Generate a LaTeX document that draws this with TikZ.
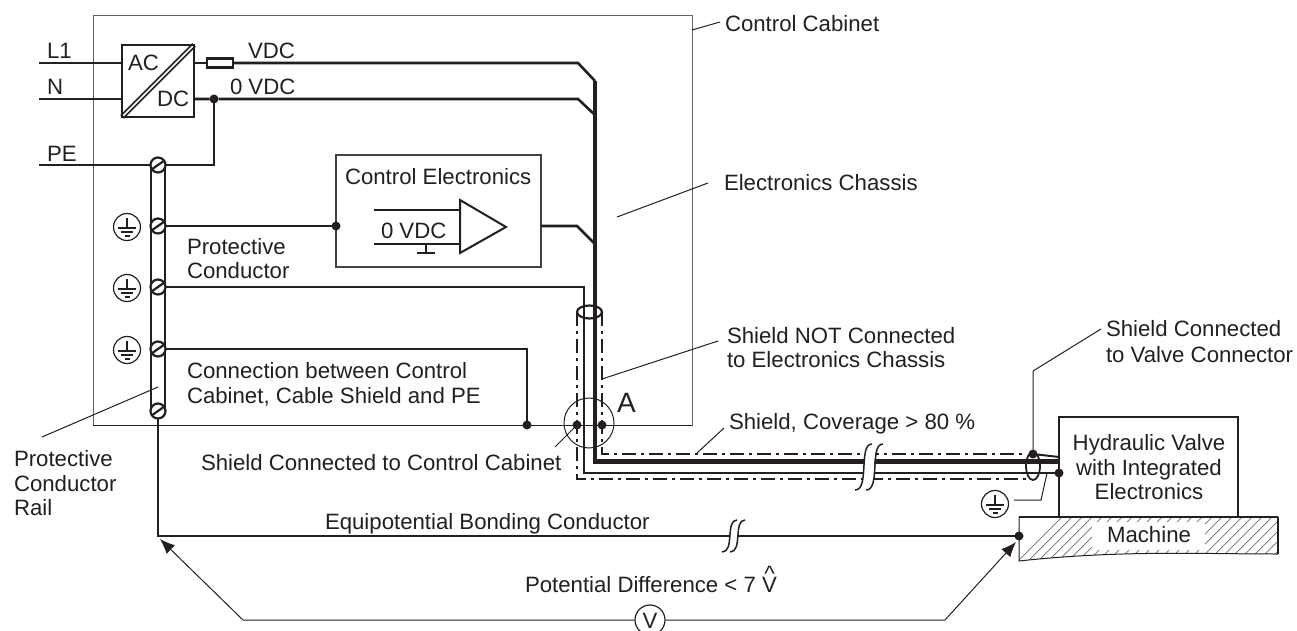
\documentclass[tikz,border=0pt]{standalone}
\usepackage{fontspec}
\setmainfont{Liberation Sans}
\usetikzlibrary{arrows.meta,calc}
\definecolor{ink}{HTML}{231F20}
\tikzset{
  txt/.style={anchor=base west,inner sep=0pt,outer sep=0pt,text=ink,font=\fontsize{22.2}{25}\selectfont},
  ctxt/.style={txt,anchor=base,align=center},
  wire/.style={draw=ink,line width=2.6pt,line join=miter},
  heavy/.style={draw=ink,line width=4.6pt},
  thin/.style={draw=ink,line width=1pt},
  frame/.style={draw=ink!70,line width=1.4pt},
  shieldline/.style={draw=ink,line width=2.4pt,dash pattern=on 14pt off 5pt on 3pt off 5pt},
  dotn/.style={circle,fill=ink,draw=none,minimum size=9pt,inner sep=0pt,outer sep=0pt},
  screw/.style={circle,draw=ink,line width=2.2pt,fill=white,minimum size=15pt,inner sep=0pt,outer sep=0pt},
  boxn/.style={draw=ink,inner sep=0pt,outer sep=0pt},
  gnd/.pic={
    \draw[ink,line width=1.2pt] (0,0) circle (13.5);
    \draw[ink,line width=1.2pt] (0,-9) -- (0,1) (-9,1) -- (9,1) (-6,5) -- (6,5) (-2.5,9) -- (2.5,9);
  }
}
\begin{document}
\begin{tikzpicture}[x=1pt,y=-1pt]
\useasboundingbox (0,0) rectangle (1297,631);
% cabinet
\node[frame,inner sep=0pt,minimum width=599pt,minimum height=410pt,anchor=north west] (cab) at (93,15) {};
\draw[thin] (93,425) -- (692,425);
% machine
\begin{scope}
  \clip (1019,517) -- (1278,517) -- (1278,554) .. controls (1200,554) and (1120,550) .. (1019,561) -- cycle;
  \foreach \i in {0,...,32} {
    \draw[ink!65,line width=.7pt] ({1014+\i*10},565) -- ({1014+\i*10+50},515);
  }
  \fill[white] (1092,522) rectangle (1205,550);
\end{scope}
\draw[thin] (1019,517) -- (1019,561) .. controls (1120,550) and (1200,554) .. (1278,554);
\draw[ink,line width=1.8pt] (1278,554) -- (1278,517);
% power supply
\node[boxn,line width=2.2pt,minimum width=72pt,minimum height=72pt,anchor=north west] (acdc) at (122,45) {};
\draw[ink,line width=5pt] (acdc.south west) -- (acdc.north east);
\draw[white,line width=1.6pt] (acdc.south west) -- (acdc.north east);
\draw[ink,line width=2.2pt] (acdc.south west) rectangle (acdc.north east);
\node[txt] (tac) at (128,71) {AC};
\node[txt] (tdc) at (157,107) {DC};
\node[boxn,line width=2.2pt,minimum width=26pt,minimum height=9pt] (fuse) at (220,63) {};
\coordinate (L1s) at (39,63); \coordinate (Ns) at (39,99); \coordinate (PEs) at (39,165);
\node[dotn] (d0) at (214,99) {};
% rail
\draw[ink,line width=2.2pt] (151,165) -- (151,411) (165,165) -- (165,411);
\foreach \n/\yy in {s1/165,s2/226,s3/287,s4/349,s5/411} {
  \node[screw] (\n) at (158,\yy) {};
  \draw[ink,line width=2.2pt] (\n.215) -- (\n.35);
}
\pic at (127,227) {gnd};
\pic at (127,288) {gnd};
\pic at (127,350) {gnd};
\pic at (995,504) {gnd};
% wires top
\draw[wire] (L1s) -- (L1s -| acdc.west);
\draw[wire] (Ns) -- (Ns -| acdc.west);
\draw[wire] (acdc.east |- fuse) -- (fuse.west);
\draw[wire] (fuse.east) -- (578,63) -- (595,81);
\draw[wire] (acdc.east |- d0) -- (d0) -- (578,99) -- (595,115);
\draw[wire] (PEs) -- (s1.west);
\draw[wire] (s1.east) -- (214,165) -- (d0);
% control electronics
\node[boxn,draw=ink!85,line width=1.2pt,minimum width=205pt,minimum height=112pt,anchor=north west] (ctrl) at (336,155) {};
\node[dotn] (d1) at (ctrl.west |- s2) {};
\draw[wire] (s2.east) -- (d1);
\draw[wire] (ctrl.east |- 0,226) -- (577,226) -- (595,244);
\coordinate (ampA) at (460,200); \coordinate (ampB) at (460,253); \coordinate (ampC) at (506,227);
\draw[ink,line width=2pt,line join=miter] (ampA) -- (ampC) -- (ampB) -- cycle;
\draw[wire] (374,210) -- (460,210);
\draw[wire] (374,244) -- (460,244);
\draw[ink,line width=2pt] (426,244) -- (426,253) (417,253) -- (435,253);
% conductors to cabinet
\coordinate (cA) at (584,473); \coordinate (cB) at (595,461.5);
\draw[wire] (s3.east) -- (584,287) -- (cA) -- (1059,473);
\draw[heavy,line join=miter] (595,81) -- (cB) -- (1059,461.5);
\node[dotn] (d2) at (527,425) {};
\draw[wire] (s4.east) -- (527,349) -- (d2);
% shield
\draw[shieldline] (577,312) -- (577,479) -- (1027,479);
\draw[shieldline] (602,312) -- (602,454) -- (1023,454);
\draw[ink,line width=2.2pt,fill=none] (589.5,312) ellipse (12.5 and 6.5);
\node[dotn] (d3) at (577,425) {};
\node[dotn] (d4) at (602,425) {};
\draw[ink,line width=1pt] (589,423) circle (25);
\draw[thin] (d3) -- (555,447);
\draw[thin] (602,379) -- (718,341);
% valve
\node[boxn,fill=white,line width=2.4pt,minimum width=179pt,minimum height=100pt,anchor=north west] (valve) at (1059,417) {};
\draw[ink,line width=2.4pt] (1019,517) -- (1278,517);
\node[dotn] (d5) at (1033,454) {};
\node[dotn] (d6) at (1059,473) {};
\draw[ink,line width=2pt] (d5) -- (1059,457);
\draw[ink,line width=1.8pt] (1033,466) ellipse (7 and 14);
\draw[thin] (d5) -- (1033,371) -- (1101,329);
\draw[thin] (1014,500) -- (1041,500) -- (1047,473);
% cable break
\fill[white] (855,490) .. controls (870,490) and (858,444) .. (872,444) -- (883,444) .. controls (868,444) and (880,490) .. (866,490) -- cycle;
\draw[ink,line width=1.5pt] (855,490) .. controls (870,490) and (858,444) .. (872,444);
\draw[ink,line width=1.5pt] (866,490) .. controls (881,490) and (869,444) .. (883,444);
% bonding
\node[dotn] (d7) at (1019,536) {};
\draw[wire] (s5.south) -- (158,536) -- (d7);
\fill[white] (722,552) .. controls (735,552) and (725,520) .. (737,520) -- (745,520) .. controls (733,520) and (743,552) .. (730,552) -- cycle;
\draw[ink,line width=1.5pt] (722,552) .. controls (735,552) and (725,520) .. (737,520);
\draw[ink,line width=1.5pt] (730,552) .. controls (743,552) and (733,520) .. (745,520);
% voltmeter
\node[circle,draw=ink,line width=1.2pt,minimum size=30pt,inner sep=0pt] (vm) at (650,620) {};
\node[ctxt] (vmt) at (650,628) {V};
\coordinate (tl) at (160,539); \coordinate (tr) at (1016,542);
\draw[thin,{Latex[length=15pt,width=12pt]}-] (tl) -- (243,620) -- (vm.west);
\draw[thin,-{Latex[length=15pt,width=12pt]}] (vm.east) -- (945,620) -- (tr);
% leaders
\draw[thin] (692,30) -- (720,22);
\draw[thin] (617,217) -- (708,183);
\draw[thin] (158,387) -- (42,437);
\draw[thin] (724,428) -- (697,453);
% texts
\node[txt] (t1) at (47,59) {L1};
\node[txt] (t2) at (47,95) {N};
\node[txt] (t3) at (47,161) {PE};
\node[txt] (t4) at (248,59) {VDC};
\node[txt] (t5) at (230,95) {0 VDC};
\node[txt] (t6) at (725,32) {Control Cabinet};
\node[txt] (t7) at (724,190) {Electronics Chassis};
\node[txt] (t8) at (345,185) {Control Electronics};
\node[txt] (t9) at (381,238) {0 VDC};
\node[txt] (t10) at (187,254) {Protective};
\node[txt] (t11) at (187,278) {Conductor};
\node[txt] (t12) at (187,378) {Connection between Control};
\node[txt] (t13) at (187,403) {Cabinet, Cable Shield and PE};
\node[txt] (t14) at (14,466) {Protective};
\node[txt] (t15) at (14,491) {Conductor};
\node[txt] (t16) at (14,515) {Rail};
\node[txt] (t17) at (727,343) {Shield NOT Connected};
\node[txt] (t18) at (727,367) {to Electronics Chassis};
\node[txt] (t19) at (729,429) {Shield, Coverage > 80 \%};
\node[txt] (t20) at (1106,336) {Shield Connected};
\node[txt] (t21) at (1106,362) {to Valve Connector};
\node[ctxt] (t22) at (1149,450) {Hydraulic Valve};
\node[ctxt] (t23) at (1149,475) {with Integrated};
\node[ctxt] (t24) at (1149,499) {Electronics};
\node[ctxt] (t25) at (1149,542) {Machine};
\node[txt] (t26) at (201,470) {Shield Connected to Control Cabinet};
\node[txt] (t27) at (325,529) {Equipotential Bonding Conductor};
\node[txt] (t28) at (525,592) {Potential Difference < 7 \makebox[0pt][l]{\makebox[14.8pt][c]{\raisebox{11pt}{\textasciicircum}}}V};
\node[txt,font=\fontsize{28}{30}\selectfont] (t30) at (617,412) {A};
\end{tikzpicture}
\end{document}
